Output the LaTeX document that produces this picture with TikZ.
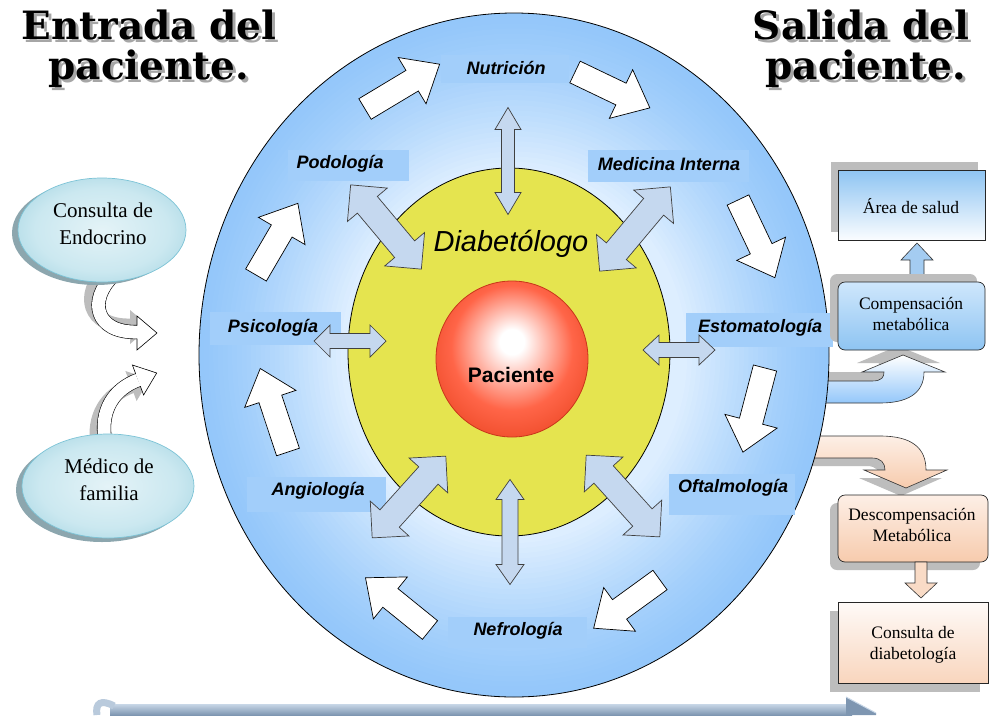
\documentclass[tikz,border=0pt]{standalone}
\usepackage{fontspec}
\setmainfont{Liberation Serif}
\setsansfont{Liberation Sans}
\newfontfamily\titlefont{DejaVu Serif}
\definecolor{bedge}{HTML}{94C7FA}
\definecolor{bnear}{HTML}{DDEEFF}
\definecolor{labbg}{HTML}{A2CEFA}
\definecolor{yel}{HTML}{E5E44F}
\definecolor{redA}{HTML}{FF6548}
\definecolor{redB}{HTML}{E63E1A}
\definecolor{redrim}{HTML}{C8361A}
\definecolor{arrblue}{HTML}{C5D8EF}
\definecolor{cyanA}{HTML}{E4F3F7}
\definecolor{cyanB}{HTML}{CBE8F0}
\definecolor{cyanC}{HTML}{9FD2E0}
\definecolor{cyanrim}{HTML}{7CC3D6}
\definecolor{tealshadow}{HTML}{8CA6AE}
\definecolor{boxshadow}{HTML}{BDBDBD}
\definecolor{peachA}{HTML}{FDEFE6}
\definecolor{peachB}{HTML}{F7CBAD}
\definecolor{skyA}{HTML}{CFE7FC}
\definecolor{skyB}{HTML}{8EC4F2}
\definecolor{barA}{HTML}{C8D7E7}
\definecolor{barB}{HTML}{7E96B1}
\definecolor{ttlgray}{HTML}{A6A6A6}
\pgfdeclareradialshading{redball}{\pgfpoint{0bp}{6bp}}{color(0bp)=(white); color(4bp)=(white); color(20bp)=(redA); color(35bp)=(redB); color(50bp)=(redB)}
\pgfdeclareradialshading{cyanball}{\pgfpoint{0bp}{0bp}}{color(0bp)=(cyanA); color(20bp)=(cyanB); color(35bp)=(cyanC); color(50bp)=(cyanC)}
\newcommand\mkSingleArrow[8]{\begin{scope}[shift={(#1,#2)},rotate=#3]\draw[#8] (0,-#5) -- ({#4-#7},-#5) -- ({#4-#7},-#6) -- (#4,0) -- ({#4-#7},#6) -- ({#4-#7},#5) -- (0,#5) -- cycle;\end{scope}}
\newcommand\mkDoubleArrow[8]{\begin{scope}[shift={(#1,#2)},rotate=#3]\draw[#8] ({-#4/2},0) -- ({-#4/2+#7},-#6) -- ({-#4/2+#7},-#5) -- ({#4/2-#7},-#5) -- ({#4/2-#7},-#6) -- ({#4/2},0) -- ({#4/2-#7},#6) -- ({#4/2-#7},#5) -- ({-#4/2+#7},#5) -- ({-#4/2+#7},#6) -- cycle;\end{scope}}
\newcommand\shadowtext[1]{\makebox[0pt][l]{\hspace{3pt}\raisebox{-3pt}{\textcolor{ttlgray}{#1}}}#1}
\tikzset{
  whitearrow/.style={fill=white,draw=black,line width=0.7pt,line join=miter},
  bluearrow/.style={fill=arrblue,draw=black!75,line width=0.7pt},
  lab/.style={font=\sffamily\bfseries\itshape\fontsize{18}{20}\selectfont,inner sep=0pt},
  boxtext/.style={font=\fontsize{17.5}{21}\selectfont,align=center,inner sep=0pt},
  elltext/.style={font=\fontsize{21}{27}\selectfont,align=center,inner sep=0pt},
  ttl/.style={font=\titlefont\bfseries\fontsize{39}{40}\selectfont,anchor=base,inner sep=0pt},
}
\begin{document}
\begin{tikzpicture}[x=1pt,y=-1pt]
\useasboundingbox (0,0) rectangle (990,715);
\fill[white] (0,0) rectangle (990,715);

% ---------- right side curved arrows (behind the ring) ----------
\fill[boxshadow] (807,372) -- (867,372) .. controls (877,372) and (879,368) .. (879,363) -- (857,363) -- (898,346) -- (940,363) -- (919,363) .. controls (919,386) and (900,394) .. (875,394) -- (807,394) -- cycle;
\shade[top color=white,bottom color=bedge,draw=black!80,line width=0.6pt] (812,381) -- (872,381) .. controls (882,381) and (884,377) .. (884,372) -- (862,372) -- (903,355) -- (945,372) -- (924,372) .. controls (924,395) and (905,403) .. (880,403) -- (812,403) -- cycle;
\fill[boxshadow] (807,444) -- (875,444) .. controls (907,444) and (921,456) .. (921,478) -- (942,478) -- (901,496) -- (859,478) -- (880,478) .. controls (880,471) and (876,466) .. (867,466) -- (807,466) -- cycle;
\shade[top color=peachA,bottom color=peachB,draw=black!80,line width=0.6pt] (812,436) -- (880,436) .. controls (912,436) and (926,448) .. (926,470) -- (947,470) -- (906,488) -- (864,470) -- (885,470) .. controls (885,463) and (881,458) .. (872,458) -- (812,458) -- cycle;

% ---------- main ring (stepped radial gradient) ----------
\foreach \i [evaluate=\i as \rx using 315*(1-\i*0.015),
             evaluate=\i as \ry using 342*(1-\i*0.015),
             evaluate=\i as \p using 100*(\i/30)^1.3] in {0,...,30}
  \fill[bnear!\p!bedge] (514,355) ellipse [x radius=\rx pt, y radius=\ry pt];
\draw[line width=0.8pt] (514,355) ellipse [x radius=315pt, y radius=342pt];

% label backgrounds
\fill[labbg] (441,55) rectangle (569,83);
\fill[labbg] (288,150) rectangle (409,181);
\fill[labbg] (588,150) rectangle (749,182);
\fill[labbg] (210,312) rectangle (341,345);
\fill[labbg] (686,313) rectangle (833,347);
\fill[labbg] (247,477) rectangle (386,512);
\fill[labbg] (669,474) rectangle (795,515);
\fill[labbg] (448,617) rectangle (587,648);

% yellow ellipse and patient
\draw[fill=yel,line width=0.8pt] (509,352) ellipse [x radius=161pt, y radius=184pt];
\shade[shading=redball] (512,359) ellipse [x radius=76pt, y radius=78pt];
\draw[redrim,line width=0.8pt] (512,359) ellipse [x radius=76pt, y radius=78pt];
\node[font=\sffamily\itshape\fontsize{29}{30}\selectfont,inner sep=0pt] (diab) at (511,244) {Diabetólogo};
\node[font=\sffamily\bfseries\fontsize{21}{22}\selectfont,inner sep=0pt] (pac) at (511,375) {Paciente};

% blue double arrows
\mkDoubleArrow{508}{161}{90}{107}{6.5}{13}{22}{bluearrow}
\mkDoubleArrow{510}{532}{90}{105}{8}{14}{20}{bluearrow}
\mkDoubleArrow{350}{341}{0}{72}{7.5}{16}{16}{bluearrow}
\mkDoubleArrow{679}{350}{0}{72}{7.5}{15}{16}{bluearrow}
\mkDoubleArrow{386}{227}{-50}{110}{13}{26}{26}{bluearrow}
\mkDoubleArrow{635}{229}{50}{110}{13}{26}{26}{bluearrow}
\mkDoubleArrow{409}{497}{48}{110}{13}{26}{26}{bluearrow}
\mkDoubleArrow{623}{496}{-48}{110}{13}{26}{26}{bluearrow}

% white circulating arrows
\mkSingleArrow{365}{109}{31}{87}{12}{27}{32}{whitearrow}
\mkSingleArrow{575}{72}{-25.6}{83}{12}{27}{32}{whitearrow}
\mkSingleArrow{738}{200}{-64.6}{86}{12}{27}{32}{whitearrow}
\mkSingleArrow{765}{368}{-104.7}{87}{12}{27}{32}{whitearrow}
\mkSingleArrow{660}{580}{-144}{82}{12}{27}{32}{whitearrow}
\mkSingleArrow{430}{630}{141}{83}{12}{27}{32}{whitearrow}
\mkSingleArrow{288}{452}{108.4}{88}{12}{27}{32}{whitearrow}
\mkSingleArrow{256}{275}{59.7}{83}{12}{27}{32}{whitearrow}

% ring labels
\node[lab] (nut) at (506,68) {Nutrición};
\node[lab] (pod) at (340,164) {Podología};
\node[lab] (med) at (669,164) {Medicina Interna};
\node[lab] (psi) at (273,328) {Psicología};
\node[lab] (est) at (760,328) {Estomatología};
\node[lab] (ang) at (318,491) {Angiología};
\node[lab] (oft) at (733,488) {Oftalmología};
\node[lab] (nef) at (518,631) {Nefrología};

% ---------- left: entry ----------
\draw[line width=15pt,boxshadow] (106,270) .. controls (81,294) and (88,327) .. (130,326);
\fill[boxshadow] (130,310) -- (150,327) -- (130,344) -- cycle;
\draw[double=white,double distance=13pt,line width=0.6pt] (113,276) .. controls (88,300) and (95,333) .. (137,332);
\fill[white] (137,316) -- (157,333) -- (137,350) -- cycle;
\draw[line width=0.6pt] (137,325.5) -- (137,316) -- (157,333) -- (137,350) -- (137,338.5);

\draw[line width=15pt,boxshadow] (98,446) .. controls (93,416) and (107,395) .. (131,386);
\fill[boxshadow] (125.4,371) -- (149.7,379) -- (136.6,401) -- cycle;
\draw[double=white,double distance=13pt,line width=0.6pt] (105,440) .. controls (100,410) and (114,389) .. (138,380);
\fill[white] (132.4,365) -- (156.7,373) -- (143.6,395) -- cycle;
\draw[line width=0.6pt] (135.7,373.9) -- (132.4,365) -- (156.7,373) -- (143.6,395) -- (140.3,386.1);

\fill[tealshadow] (96,233) ellipse [x radius=84pt, y radius=52pt];
\shade[shading=cyanball] (102,230) ellipse [x radius=84pt, y radius=52pt];
\draw[cyanrim,line width=0.7pt] (102,230) ellipse [x radius=84pt, y radius=52pt];
\node[elltext] (endo) at (103,224) {Consulta de\\Endocrino};

\fill[tealshadow] (102,490) ellipse [x radius=86pt, y radius=52pt];
\shade[shading=cyanball] (108,486) ellipse [x radius=86pt, y radius=52pt];
\draw[cyanrim,line width=0.7pt] (108,486) ellipse [x radius=86pt, y radius=52pt];
\node[elltext] (fam) at (109,480) {Médico de\\familia};

% ---------- right: exit ----------
\fill[boxshadow] (831,162) rectangle (978,232);
\shade[top color=skyB,bottom color=white!90!skyA,draw=black!85,line width=0.7pt] (838,170) rectangle (985,240);
\node[boxtext] (area) at (911,206) {Área de salud};

\fill[arrblue!40!skyB,draw=black!80,line width=0.6pt] (910,284) -- (910,260) -- (901,260) -- (917,243) -- (933,260) -- (924,260) -- (924,284) -- cycle;

\fill[boxshadow,rounded corners=7pt] (830,274) rectangle (977,342);
\shade[top color=skyA,bottom color=skyB,draw=black!85,line width=0.7pt,rounded corners=7pt] (838,282) rectangle (985,350);
\node[boxtext] (comp) at (911,314) {Compensación\\metabólica};

\fill[boxshadow,rounded corners=7pt] (830,503) rectangle (980,570);
\shade[top color=peachA,bottom color=peachB,draw=black!85,line width=0.7pt,rounded corners=7pt] (838,495) rectangle (988,562);
\node[boxtext] (desc) at (912,525) {Descompensación\\Metabólica};

\fill[peachB!70!white,draw=black!80,line width=0.6pt] (915,562) -- (915,583) -- (905,583) -- (921,598) -- (937,583) -- (927,583) -- (927,562) -- cycle;

\fill[boxshadow] (830,611) rectangle (980,692);
\shade[top color=white!70!peachA,bottom color=peachB!80!white,draw=black!85,line width=0.7pt] (838,602) rectangle (988,683);
\node[boxtext] (cdiab) at (913,645) {Consulta de\\diabetología};

% ---------- bottom timeline arrow ----------
\shade[top color=barA,bottom color=barB] (110,704) rectangle (852,715);
\draw[line width=7pt,barA!80!barB] (97,715) .. controls (95,703) and (101,699) .. (114,706);
\fill[barB] (846,697) -- (876,713) -- (876,715) -- (846,715) -- cycle;
\draw[barA,line width=1pt] (846,697) -- (876,713);

% ---------- titles ----------
\node[ttl] (t1) at (149,39) {\shadowtext{Entrada del}};
\node[ttl] (t2) at (149,79) {\shadowtext{paciente.}};
\node[ttl] (t3) at (861,39) {\shadowtext{Salida del}};
\node[ttl] (t4) at (866,79) {\shadowtext{paciente.}};
\end{tikzpicture}
\end{document}
